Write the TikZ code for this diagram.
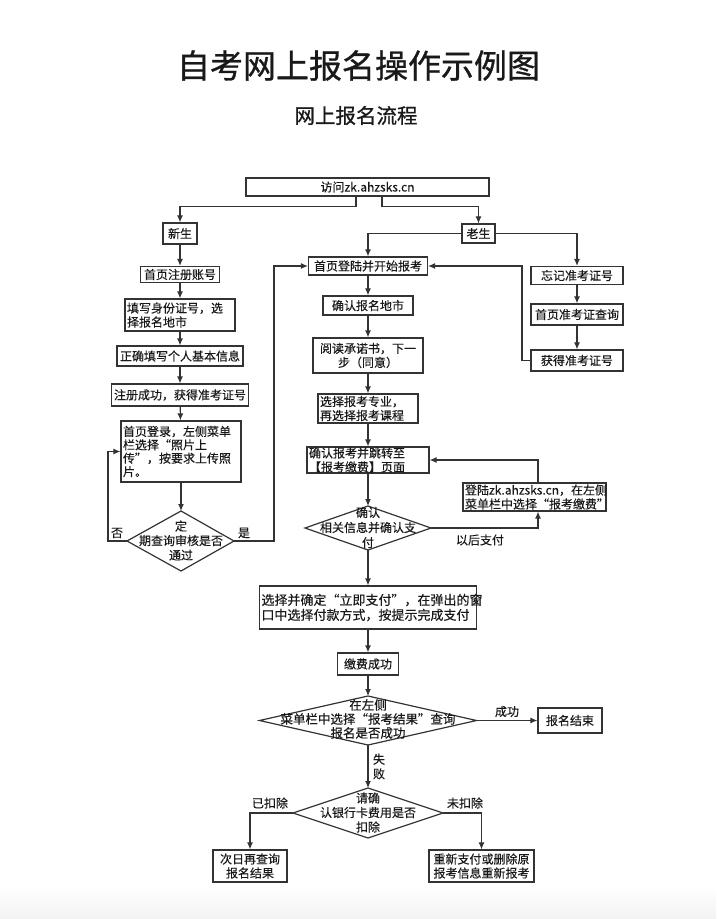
\documentclass[tikz,border=0pt]{standalone}
\usepackage{fontspec}
\setmainfont[FakeBold=0.35]{Noto Sans CJK SC}
\newfontfamily\titlefont[FakeBold=0.9]{Noto Sans CJK SC}
\usetikzlibrary{arrows.meta}
\begin{document}
\begin{tikzpicture}[x=1pt,y=-1pt,
  line/.style={draw=black!80, line width=1.1pt},
  arr/.style={line, -{Latex[length=7pt,width=6pt]}},
  box/.style={draw=black!80, line width=1.2pt, inner xsep=2pt, inner ysep=0pt,
    font=\fontsize{12}{14}\selectfont, text=black!90, align=center},
  lbox/.style={box, align=left},
  lbl/.style={font=\fontsize{12}{14.5}\selectfont, text=black!90, inner sep=0pt, align=center},
  dia/.style={draw=black!80, line width=1.2pt, line join=miter},
]
\useasboundingbox (0,0) rectangle (716,919);
\shade[top color=white, bottom color=black!5] (0,885) rectangle (716,919);

% titles
\node[font=\titlefont\fontsize{33}{33}\selectfont, text=black!90] (title) at (358.5,65.5) {自考网上报名操作示例图};
\node[font=\titlefont\fontsize{20.5}{21}\selectfont, text=black!90] (sub) at (356,115.5) {网上报名流程};

% top
\node[box, minimum width=243pt, minimum height=18pt] (top) at (367.5,187) {访问zk.ahzsks.cn};
\node[box, minimum width=34pt, minimum height=21pt] (xin) at (180,233.5) {新生};
\node[box, minimum width=33pt, minimum height=19pt] (lao) at (478.5,233.5) {老生};

% left column
\node[box, minimum width=79pt, minimum height=16pt] (reg) at (180,274.5) {首页注册账号};
\node[lbox, minimum width=110pt, text width=106pt, minimum height=32pt] (fill) at (180,315) {填写身份证号，选\\择报名地市};
\node[box, minimum width=126pt, minimum height=20pt] (info) at (180,356) {正确填写个人基本信息};
\node[box, minimum width=137pt, minimum height=22pt] (got) at (180,395) {注册成功，获得准考证号};
\node[lbox, minimum width=120pt, text width=116pt, minimum height=61pt, font=\fontsize{12}{13.4}\selectfont] (photo) at (181,451.5) {首页登录，左侧菜单\\栏选择“照片上\\传”，按要求上传照\\片。};
\coordinate (dLn) at (181,511);
\coordinate (dLs) at (181,571);
\coordinate (dLw) at (127,541);
\coordinate (dLe) at (234,541);
\draw[dia] (dLn) -- (dLe) -- (dLs) -- (dLw) -- cycle;
\node[lbl] (dL) at (181,540.5) {定\\期查询审核是否\\通过};
\coordinate (fo) at (108,0);
\coordinate (shi) at (274,0);

% center column
\node[box, minimum width=119pt, minimum height=18pt] (login) at (368,266) {首页登陆并开始报考};
\node[box, minimum width=90pt, minimum height=19pt] (city) at (368,305.5) {确认报名地市};
\node[box, minimum width=110pt, minimum height=35pt] (read) at (368,355.5) {阅读承诺书，下一\\步（同意）};
\node[lbox, minimum width=100pt, text width=96pt, minimum height=29pt] (major) at (368,408.5) {选择报考专业，\\再选择报考课程};
\node[lbox, minimum width=122pt, text width=118pt, minimum height=26pt] (pay) at (368,460) {确认报考并跳转至\\【报考缴费】页面};
\coordinate (d1n) at (368,506);
\coordinate (d1s) at (368,550);
\coordinate (d1w) at (305,528);
\coordinate (d1e) at (431,528);
\draw[dia] (d1n) -- (d1e) -- (d1s) -- (d1w) -- cycle;
\node[lbl, font=\fontsize{12}{15}\selectfont] (d1) at (368,527.5) {确认\\相关信息并确认支\\付};
\node[lbox, minimum width=143pt, text width=139pt, minimum height=28pt] (relogin) at (534.5,497) {登陆zk.ahzsks.cn，在左侧\\菜单栏中选择“报考缴费”};
\coordinate (rx) at (538,0);
\node[lbl] (later) at (480,540) {以后支付};

\node[lbox, minimum width=217pt, text width=213pt, minimum height=43pt, font=\fontsize{13}{15}\selectfont] (paynow) at (368,607.5) {选择并确定“立即支付”，在弹出的窗\\口中选择付款方式，按提示完成支付};
\node[box, minimum width=61pt, minimum height=22pt] (ok) at (368,664) {缴费成功};
\coordinate (d2n) at (368,696);
\coordinate (d2s) at (368,745);
\coordinate (d2w) at (259.5,720.5);
\coordinate (d2e) at (476.5,720.5);
\draw[dia] (d2n) -- (d2e) -- (d2s) -- (d2w) -- cycle;
\node[lbl, font=\fontsize{12.5}{14}\selectfont] (d2) at (368,719) {在左侧\\菜单栏中选择“报考结果”查询\\报名是否成功};
\node[box, minimum width=64pt, minimum height=25pt] (fin) at (570,720.5) {报名结束};
\node[lbl] (succ) at (507,711.5) {成功};
\node[lbl] (fail) at (379,766.5) {失\\败};

\coordinate (d3n) at (368,788);
\coordinate (d3s) at (368,838);
\coordinate (d3w) at (293,813);
\coordinate (d3e) at (443,813);
\draw[dia] (d3n) -- (d3e) -- (d3s) -- (d3w) -- cycle;
\node[lbl] (d3) at (368,812.5) {请确\\认银行卡费用是否\\扣除};
\node[box, minimum width=74pt, minimum height=32pt] (next) at (250,866) {次日再查询\\报名结果};
\node[box, minimum width=105pt, minimum height=32pt] (redo) at (481.5,866) {重新支付或删除原\\报考信息重新报考};
\node[lbl] (yes3) at (270,803) {已扣除};
\node[lbl] (no3) at (465,803) {未扣除};

% right column
\node[box, minimum width=92pt, minimum height=18pt] (forget) at (577,275.5) {忘记准考证号};
\node[box, minimum width=92pt, minimum height=21pt] (query) at (577,314.5) {首页准考证查询};
\node[box, minimum width=92pt, minimum height=21pt] (obtain) at (577,360.5) {获得准考证号};
\coordinate (ox) at (522,0);

% labels on left diamond
\node[lbl] (no1) at (117,533) {否};
\node[lbl] (yes1) at (244,533) {是};

% connectors
\draw[arr] ([xshift=-11.5pt]top.south) -- ++(0,10) -| (xin.north);
\draw[arr] ([xshift=14.5pt]top.south) -- ++(0,10) -| (lao.north);
\draw[arr] (lao.west) -| (login.north);
\draw[arr] (lao.east) -| (forget.north);
\draw[arr] (forget) -- (query);
\draw[arr] (query) -- (obtain);
\draw[arr] (obtain.west) -| (ox |- login.east) -- (login.east);

\draw[arr] (xin) -- (reg);
\draw[arr] (reg) -- (fill);
\draw[arr] (fill) -- (info);
\draw[arr] (info) -- (got);
\draw[arr] (got) -- (photo);
\draw[arr] (photo.south) -- (dLn);
\draw[arr] (dLw) -| (fo |- photo.west) -- (photo.west);
\draw[arr] (dLe) -| (shi |- login.west) -- (login.west);

\draw[arr] (login) -- (city);
\draw[arr] (city) -- (read);
\draw[arr] (read) -- (major);
\draw[arr] (major) -- (pay);
\draw[arr] (pay.south) -- (d1n);
\draw[arr] (d1e) -| (rx |- relogin.south);
\draw[arr] (rx |- relogin.north) |- (pay.east);
\draw[arr] (d1s) -- (paynow.north);
\draw[arr] (paynow) -- (ok);
\draw[arr] (ok.south) -- (d2n);
\draw[arr] (d2e) -- (fin.west);
\draw[arr] (d2s) -- (d3n);
\draw[arr] (d3w) -| (next.north);
\draw[arr] (d3e) -| (redo.north);
\end{tikzpicture}
\end{document}
